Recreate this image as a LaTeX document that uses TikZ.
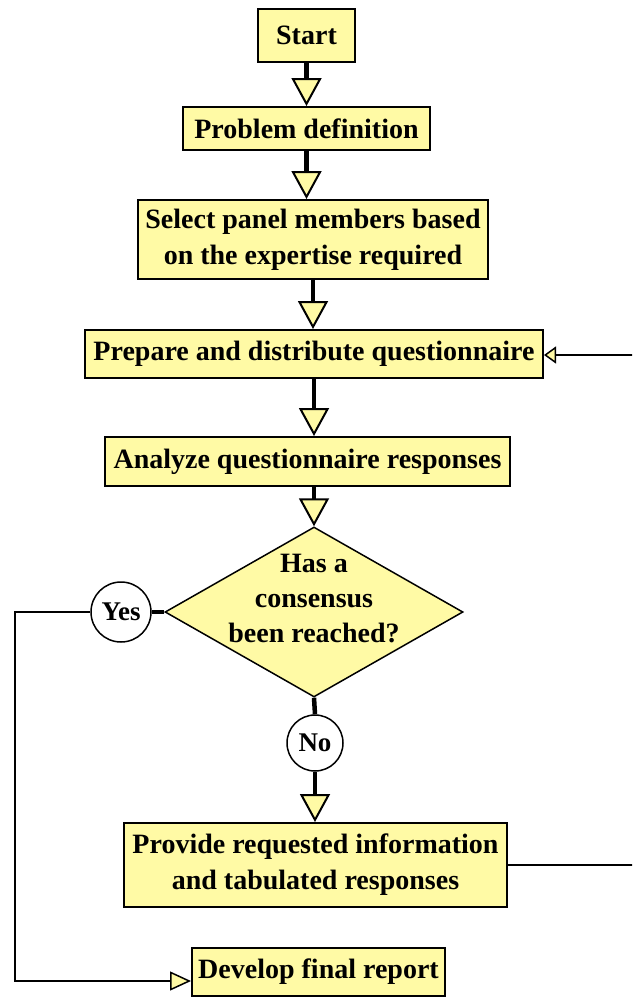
\documentclass[tikz,border=0pt]{standalone}
\usepackage{fontspec}
\setmainfont{Liberation Serif}
\usetikzlibrary{arrows.meta,shapes.geometric,calc}
\definecolor{boxyellow}{HTML}{FFFAA5}
\begin{document}
\begin{tikzpicture}[x=1pt,y=-1pt,
  box/.style={draw=black, line width=2pt, fill=boxyellow, inner sep=0pt, align=center,
    font=\fontsize{28}{36}\selectfont\bfseries},
  decbox/.style={draw=black, line width=1.5pt, fill=boxyellow, diamond, inner sep=0pt},
  dectext/.style={inner sep=0pt, align=center, font=\fontsize{28}{35}\selectfont\bfseries},
  answer/.style={draw=black, line width=1.5pt, fill=white, circle, inner sep=0pt,
    font=\fontsize{27}{30}\selectfont\bfseries},
  flow/.style={line width=4.5pt, -{Triangle[length=28pt,width=30pt,fill=boxyellow,line width=2pt]}},
  thickln/.style={line width=4.5pt},
  conn/.style={line width=1.5pt},
  backarrow/.style={conn, -{Triangle[length=12pt,width=17pt,fill=boxyellow,line width=1.5pt]}},
  finarrow/.style={conn, -{Triangle[length=21pt,width=19pt,fill=boxyellow,line width=1.5pt]}}
]
\useasboundingbox (0,0) rectangle (632,998);
\clip (0,0) rectangle (632,998);

\node[box, minimum width=97pt, minimum height=53pt] (start) at (306.5,35.5) {Start};
\node[box, minimum width=247pt, minimum height=43pt] (problem) at (306.5,128.5) {Problem definition};
\node[box, minimum width=350pt, minimum height=79pt] (select) at (313,239.5) {Select panel members based\\on the expertise required};
\node[box, minimum width=458pt, minimum height=48pt] (prepare) at (314,354) {Prepare and distribute questionnaire};
\node[box, minimum width=405pt, minimum height=49pt] (analyze) at (307.5,461.5) {Analyze questionnaire responses};
\node[decbox, minimum width=298pt, minimum height=170pt] (dec) at (314,612) {};
\node[dectext] (dectxt) at (314,599) {Has a\\consensus\\been reached?};
\node[answer, minimum size=60pt] (yes) at (121,612) {Yes};
\node[answer, minimum size=56pt] (no) at (315,743) {No};
\node[box, minimum width=383pt, minimum height=84pt] (provide) at (315.5,865) {Provide requested information\\and tabulated responses};
\node[box, minimum width=253pt, minimum height=48pt] (develop) at (318.5,972) {Develop final report};

\coordinate (leftbend) at (15,981);
\coordinate (rightbend) at (640,355);

\draw[flow] (start.south) -- (start.south |- problem.north);
\draw[flow] (problem.south) -- (problem.south |- select.north);
\draw[flow] (select.south) -- (select.south |- prepare.north);
\draw[flow] (prepare.south) -- (prepare.south |- analyze.north);
\draw[flow] (analyze.south -| dec.north) -- (dec.north);
\draw[thickln] (dec.west) -- (yes.east);
\draw[thickln] (dec.south) -- (no.north);
\draw[flow] (no.south) -- (no.south |- provide.north);
\draw[finarrow] (yes.west) -| (leftbend) -- (leftbend -| develop.west);
\draw[backarrow] (provide.east) -- (provide.east -| rightbend) -- (rightbend) -- (rightbend -| prepare.east);
\end{tikzpicture}
\end{document}
